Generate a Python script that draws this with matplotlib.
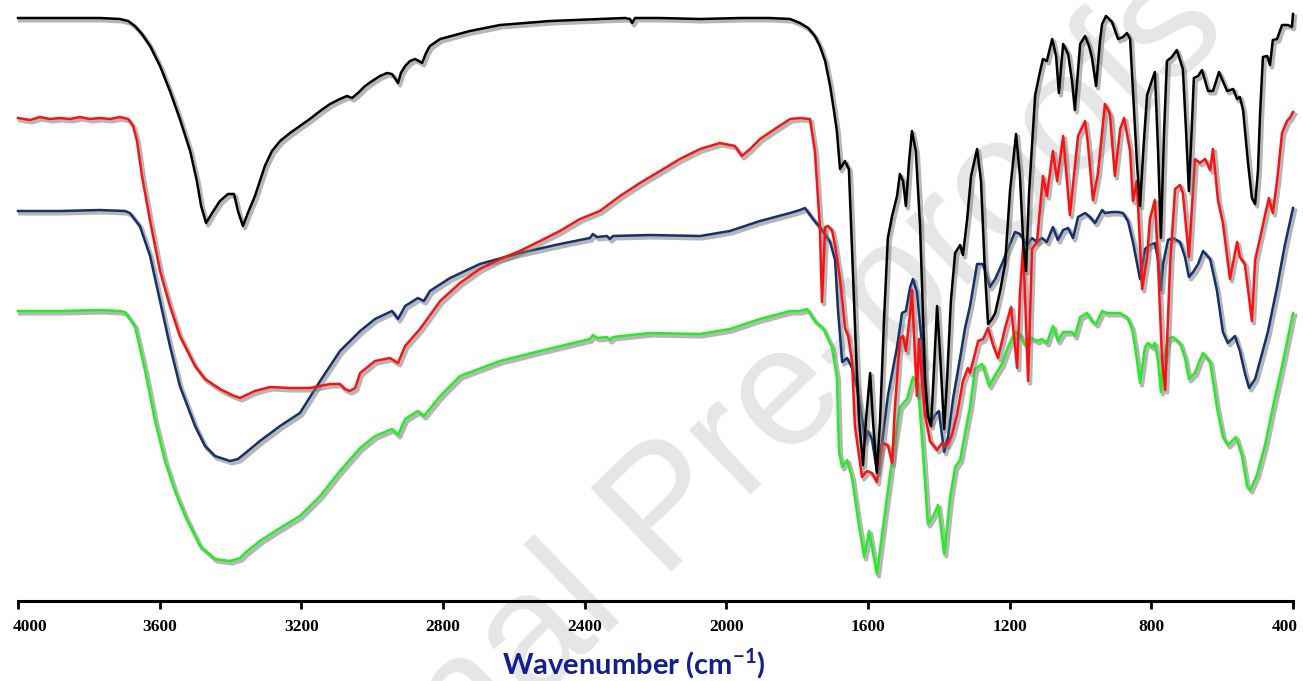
import numpy as np
import matplotlib
matplotlib.use("Agg")
import matplotlib.pyplot as plt
import matplotlib.patheffects as pe
import matplotlib.transforms as mtransforms

# -----------------------------
# DATA  (wavenumber cm-1, transmittance a.u.)
# -----------------------------
black = [
    (4000, 583), (3881, 583), (3768, 583), (3712, 582), (3689, 580), (3670, 575), (3650, 567),
    (3627, 555), (3599, 535), (3571, 510), (3543, 482), (3514, 450), (3495, 420), (3483, 395),
    (3469, 378), (3452, 388), (3430, 400), (3407, 407), (3390, 407), (3379, 390), (3365, 375),
    (3351, 388), (3331, 405), (3303, 435), (3283, 450), (3260, 460), (3232, 468), (3204, 475),
    (3176, 482), (3147, 490), (3119, 497), (3091, 502), (3071, 505), (3057, 503), (3040, 508),
    (3020, 515), (3000, 520), (2978, 525), (2958, 528), (2944, 527), (2936, 523), (2927, 518),
    (2919, 528), (2907, 535), (2893, 540), (2879, 542), (2868, 540), (2859, 538), (2848, 548),
    (2837, 555), (2808, 562), (2766, 566), (2724, 570), (2681, 573), (2639, 576), (2568, 578),
    (2498, 580), (2427, 581), (2357, 582), (2286, 583), (2272, 582), (2266, 578), (2258, 583),
    (2187, 583), (2074, 582), (1961, 583), (1877, 583), (1820, 582), (1792, 578), (1769, 573),
    (1750, 565), (1736, 555), (1721, 540), (1707, 515), (1696, 490), (1688, 470), (1679, 432),
    (1665, 440), (1654, 432), (1645, 350), (1634, 250), (1625, 180), (1614, 136), (1606, 180),
    (1594, 228), (1586, 180), (1575, 128), (1566, 180), (1555, 280), (1544, 363), (1532, 385),
    (1518, 405), (1510, 427), (1501, 420), (1493, 395), (1484, 440), (1476, 470), (1465, 450),
    (1453, 375), (1445, 290), (1439, 224), (1431, 185), (1422, 175), (1414, 230), (1405, 295),
    (1397, 250), (1385, 172), (1377, 220), (1366, 300), (1354, 348), (1340, 356), (1332, 346),
    (1320, 382), (1309, 425), (1292, 452), (1281, 420), (1270, 330), (1261, 277), (1250, 282),
    (1241, 288), (1227, 310), (1213, 337), (1199, 410), (1182, 467), (1171, 425), (1162, 360),
    (1154, 330), (1145, 410), (1128, 506), (1114, 530), (1106, 542), (1095, 540), (1080, 562),
    (1069, 545), (1061, 508), (1049, 557), (1035, 547), (1024, 520), (1016, 491), (1001, 557),
    (987, 565), (976, 555), (968, 544), (956, 515), (945, 560), (939, 577), (928, 585),
    (911, 579), (894, 562), (880, 564), (869, 568), (860, 562), (852, 510), (841, 440),
    (832, 395), (821, 460), (812, 506), (798, 521), (790, 529), (781, 450), (773, 363),
    (764, 470), (756, 540), (742, 544), (728, 551), (711, 532), (702, 470), (694, 410),
    (685, 480), (680, 523), (668, 525), (657, 531), (640, 510), (626, 510), (609, 529),
    (598, 520), (586, 510), (569, 512), (558, 502), (550, 504), (541, 491), (527, 438),
    (516, 403), (507, 397), (499, 430), (493, 487), (485, 544), (473, 545), (465, 536),
    (457, 561), (445, 562), (431, 576), (414, 576), (403, 574), (400, 587),
]

red = [
    (4000, 483), (3966, 481), (3938, 484), (3910, 482), (3881, 483), (3853, 482), (3825, 484),
    (3797, 482), (3768, 483), (3740, 482), (3712, 484), (3689, 482), (3675, 475), (3664, 460),
    (3650, 425), (3627, 380), (3599, 330), (3571, 295), (3543, 265), (3500, 235), (3472, 222),
    (3430, 212), (3396, 206), (3373, 203), (3331, 210), (3288, 214), (3232, 213), (3176, 213),
    (3119, 217), (3091, 217), (3077, 212), (3063, 210), (3048, 213), (3034, 228), (3020, 232),
    (2992, 240), (2950, 243), (2927, 238), (2907, 255), (2865, 272), (2808, 300), (2752, 318),
    (2696, 332), (2639, 342), (2583, 350), (2526, 360), (2470, 370), (2413, 382), (2357, 390),
    (2300, 405), (2244, 418), (2187, 430), (2131, 442), (2074, 452), (2018, 458), (1976, 455),
    (1956, 445), (1933, 452), (1905, 462), (1863, 472), (1820, 482), (1792, 483), (1764, 482),
    (1750, 450), (1736, 374), (1730, 299), (1721, 374), (1713, 375), (1702, 371), (1693, 356),
    (1679, 322), (1665, 273), (1656, 265), (1645, 239), (1637, 175), (1617, 124), (1603, 130),
    (1589, 128), (1575, 119), (1560, 158), (1544, 156), (1532, 138), (1524, 194), (1510, 262),
    (1501, 265), (1493, 250), (1481, 288), (1476, 311), (1467, 243), (1462, 205), (1456, 262),
    (1447, 217), (1439, 186), (1425, 160), (1405, 151), (1391, 158), (1377, 156), (1363, 166),
    (1349, 186), (1332, 220), (1318, 233), (1312, 228), (1289, 260), (1275, 262), (1261, 273),
    (1247, 256), (1233, 243), (1213, 273), (1196, 294), (1179, 233), (1171, 307), (1162, 356),
    (1148, 220), (1137, 352), (1123, 359), (1106, 425), (1095, 405), (1078, 450), (1066, 420),
    (1049, 465), (1030, 386), (1007, 465), (987, 480), (979, 457), (965, 401), (951, 427),
    (931, 497), (917, 487), (903, 425), (888, 472), (877, 483), (860, 450), (852, 400),
    (841, 420), (826, 312), (812, 344), (804, 382), (790, 401), (781, 337), (770, 243),
    (761, 211), (747, 337), (733, 412), (719, 416), (711, 408), (694, 344), (677, 442),
    (663, 438), (648, 442), (634, 431), (626, 452), (612, 401), (598, 378), (578, 322),
    (558, 359), (550, 344), (536, 337), (516, 280), (507, 341), (493, 363), (479, 386),
    (468, 403), (457, 388), (445, 420), (431, 468), (417, 480), (409, 483), (400, 489),
]

navy = [
    (4000, 390), (3881, 390), (3768, 391), (3698, 390), (3684, 388), (3656, 375), (3627, 345),
    (3599, 300), (3571, 255), (3543, 215), (3500, 175), (3472, 155), (3444, 145), (3401, 140),
    (3379, 142), (3368, 145), (3351, 150), (3317, 160), (3260, 175), (3204, 188), (3147, 220),
    (3091, 250), (3034, 270), (2992, 282), (2944, 290), (2927, 282), (2907, 295), (2871, 303),
    (2854, 300), (2837, 310), (2780, 323), (2696, 337), (2583, 348), (2470, 357), (2385, 363),
    (2377, 367), (2365, 364), (2337, 365), (2329, 362), (2320, 365), (2216, 366), (2074, 365),
    (1990, 370), (1905, 380), (1820, 388), (1792, 391), (1778, 393), (1755, 382), (1730, 371),
    (1707, 359), (1693, 341), (1685, 292), (1673, 239), (1659, 243), (1645, 233), (1631, 213),
    (1617, 183), (1609, 160), (1600, 170), (1589, 162), (1575, 130), (1560, 160), (1544, 205),
    (1518, 254), (1504, 288), (1493, 290), (1481, 314), (1473, 322), (1462, 309), (1447, 254),
    (1439, 205), (1425, 177), (1411, 186), (1400, 190), (1385, 149), (1374, 164), (1360, 202),
    (1340, 243), (1326, 273), (1312, 295), (1292, 337), (1275, 337), (1256, 314), (1241, 322),
    (1222, 337), (1205, 352), (1185, 369), (1171, 367), (1151, 356), (1137, 363), (1123, 359),
    (1109, 363), (1095, 359), (1078, 374), (1064, 361), (1049, 371), (1035, 373), (1021, 363),
    (1007, 384), (987, 388), (973, 384), (959, 378), (939, 391), (931, 388), (911, 389),
    (894, 389), (880, 388), (866, 380), (852, 359), (832, 322), (818, 352), (804, 356),
    (790, 358), (781, 341), (773, 311), (767, 337), (753, 361), (739, 363), (719, 359),
    (705, 344), (694, 324), (682, 329), (668, 337), (654, 350), (634, 342), (615, 311),
    (598, 269), (584, 258), (564, 265), (550, 250), (536, 228), (524, 213), (507, 222),
    (488, 247), (471, 269), (445, 314), (423, 356), (400, 393),
]

green = [
    (4000, 290), (3881, 290), (3768, 291), (3712, 290), (3698, 289), (3670, 275), (3641, 230),
    (3613, 180), (3585, 140), (3557, 110), (3528, 85), (3486, 55), (3444, 42), (3401, 40),
    (3373, 43), (3359, 48), (3317, 60), (3260, 73), (3204, 85), (3147, 105), (3091, 130),
    (3034, 153), (2992, 165), (2944, 172), (2927, 166), (2907, 182), (2871, 190), (2854, 185),
    (2808, 205), (2752, 225), (2639, 240), (2526, 250), (2385, 262), (2377, 266), (2365, 263),
    (2337, 264), (2329, 261), (2320, 264), (2216, 268), (2074, 267), (1990, 272), (1905, 282),
    (1820, 290), (1792, 290), (1772, 292), (1750, 280), (1727, 273), (1702, 254), (1688, 224),
    (1682, 149), (1673, 134), (1659, 141), (1645, 123), (1628, 81), (1611, 44), (1597, 70),
    (1575, 27), (1552, 89), (1529, 149), (1510, 194), (1490, 202), (1473, 224), (1459, 217),
    (1445, 149), (1431, 77), (1416, 85), (1402, 96), (1385, 47), (1368, 104), (1354, 134),
    (1340, 141), (1326, 168), (1312, 194), (1298, 232), (1278, 237), (1258, 215), (1241, 226),
    (1222, 237), (1205, 254), (1185, 269), (1171, 267), (1157, 256), (1143, 264), (1123, 260),
    (1109, 262), (1095, 258), (1078, 275), (1064, 260), (1049, 269), (1024, 269), (1016, 265),
    (1001, 284), (982, 288), (968, 280), (956, 277), (939, 290), (925, 288), (908, 288),
    (889, 288), (869, 284), (855, 273), (846, 254), (832, 218), (818, 254), (809, 258),
    (798, 254), (790, 258), (781, 239), (773, 209), (767, 239), (753, 262), (739, 264),
    (719, 258), (705, 243), (694, 222), (677, 228), (663, 241), (654, 248), (634, 239),
    (615, 194), (598, 164), (584, 156), (561, 164), (544, 145), (530, 115), (521, 111),
    (502, 126), (479, 156), (457, 194), (431, 235), (400, 288),
]

series = [
    ("green", green, "#22ee22"),
    ("navy",  navy,  "#14306e"),
    ("red",   red,   "#ff1010"),
    ("black", black, "#000000"),
]

xticks = [4000, 3600, 3200, 2800, 2400, 2000, 1600, 1200, 800, 400]

# -----------------------------
# PLOT
# -----------------------------
plt.rcParams["mathtext.fontset"] = "custom"
plt.rcParams["mathtext.rm"] = "Lato:bold"
plt.rcParams["mathtext.bf"] = "Lato:bold"

fig = plt.figure(figsize=(13.03, 6.81), dpi=100)
ax = fig.add_axes([18 / 1303, 80 / 681, 1275 / 1303, 600 / 681])
ax.set_zorder(2)
ax.patch.set_alpha(0)

# watermark (behind the axes)
fig.text(228 / 1303, 1 - 1000 / 681, "Journal Pre-proofs", rotation=44,
         rotation_mode="anchor", ha="left", va="baseline", fontsize=122,
         color="#e6e6e6", family="Liberation Sans", zorder=0)

shadow = [pe.SimpleLineShadow(offset=(1.5, -1.8), shadow_color="#7a7a7a", alpha=0.55,
                              linewidth=3.0),
          pe.Normal()]

for name, pts, col in series:
    arr = np.array(pts, dtype=float)
    ax.plot(arr[:, 0], arr[:, 1], color=col, lw=1.8, solid_joinstyle="round",
            path_effects=shadow, clip_on=False)

ax.set_xlim(4000, 400)
ax.set_ylim(0, 600)
ax.set_xticks(xticks)
ax.set_xticklabels([str(t) for t in xticks], family="Liberation Serif",
                   fontweight="bold", fontsize=12.5)
ax.set_yticks([])
for s in ["left", "right", "top"]:
    ax.spines[s].set_visible(False)
ax.spines["bottom"].set_linewidth(2.2)
ax.tick_params(axis="x", direction="out", length=6, width=2, pad=7)

# end labels sit inside the figure edges
labels = ax.get_xticklabels()
labels[0].set_transform(labels[0].get_transform() +
                        mtransforms.ScaledTranslation(12 / 100, 0, fig.dpi_scale_trans))
labels[-1].set_transform(labels[-1].get_transform() +
                         mtransforms.ScaledTranslation(-8 / 100, 0, fig.dpi_scale_trans))

fig.text(634 / 1303, 1 - 664 / 681, r"Wavenumber (cm$^{\mathbf{-1}}$)",
         ha="center", va="center", fontsize=21, fontweight="bold",
         family="Lato", color="#10208c")

fig.savefig("out.png", dpi=100)
